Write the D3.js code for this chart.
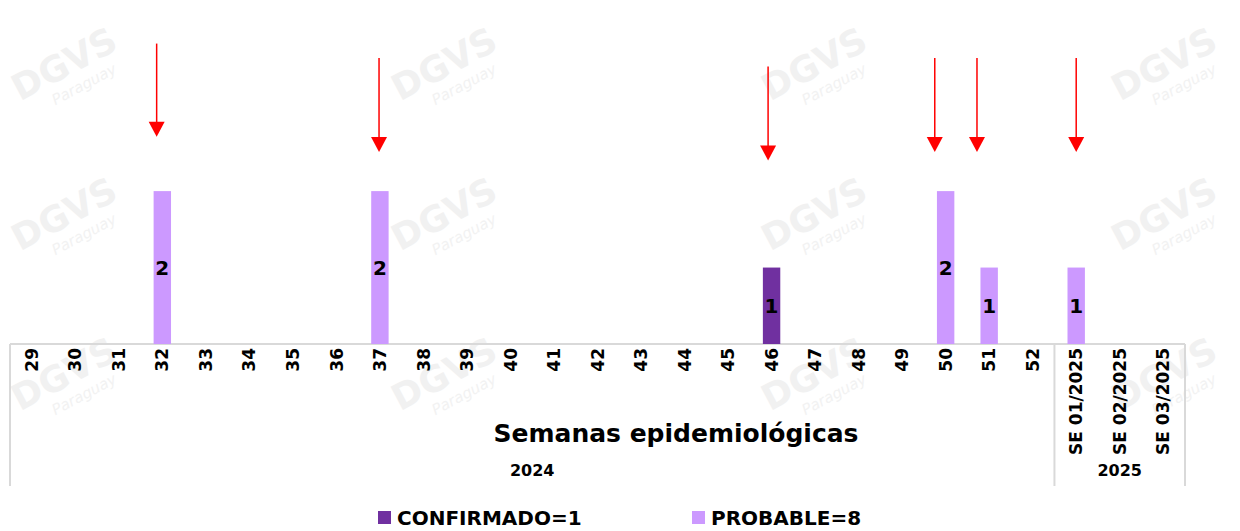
<!DOCTYPE html>
<html>
<head>
<meta charset="utf-8">
<script src="https://cdn.jsdelivr.net/npm/d3@7"></script>
<style>
  body { margin: 0; background: #fff; }
  svg { display: block; font-family: "DejaVu Sans", sans-serif; }
</style>
</head>
<body>
<svg id="chart" width="1240" height="531"></svg>
<script>
// categories (epidemiological weeks)
var weeks = ["29","30","31","32","33","34","35","36","37","38","39","40","41","42","43","44",
  "45","46","47","48","49","50","51","52","SE 01/2025","SE 02/2025","SE 03/2025"];
var years = ["2024", "2025"];
var yearSpan = [24, 3];   // how many weeks belong to each year group

// series values
var confirmado = [0,0,0,0,0,0,0,0,0,0,0,0,0,0,0,0,0,1,0,0,0,0,0,0,0,0,0];
var probable   = [0,0,0,2,0,0,0,0,2,0,0,0,0,0,0,0,0,0,0,0,0,2,1,0,1,0,0];

var seriesNames = ["CONFIRMADO=1", "PROBABLE=8"];

// red arrows above the cases (values in y units, shift in band fraction)
var arrowWeeks = ["32", "37", "46", "50", "51", "SE 01/2025"];
var arrowShift = [-0.13, -0.02, -0.08, -0.25, -0.28, 0];
var arrowFrom  = [3.93, 3.74, 3.63, 3.74, 3.74, 3.74];
var arrowTo    = [2.71, 2.51, 2.40, 2.51, 2.51, 2.51];

var colors = {confirmado: "#7030a0", probable: "#cc99ff"};

var svg = d3.select("#chart");

// faint watermark
var wm = svg.append("g").attr("class", "watermark");
var wmCols = [70, 450, 820, 1170], wmRows = [75, 225, 385];
wmRows.forEach(function(ry) {
  wmCols.forEach(function(cx) {
    var g = wm.append("g").attr("transform", "translate(" + cx + "," + ry + ") rotate(-28)");
    g.append("text").attr("text-anchor", "middle")
      .style("font-size", "36px").style("font-weight", "bold")
      .attr("fill", "#f1f1f1").text("DGVS");
    g.append("text").attr("text-anchor", "middle").attr("y", 20).attr("x", 8)
      .style("font-size", "15px").style("font-style", "italic")
      .attr("fill", "#f2f2f2").text("Paraguay");
  });
});

var x = d3.scaleBand()
    .domain(weeks)
    .range([10, 1185])
    .padding(0);

var y = d3.scaleLinear()
    .domain([0, 4.5])
    .range([344, 0]);

var barW = x.bandwidth() * 0.4;

// frame lines (axis baseline + year group separators)
var frame = svg.append("g").attr("stroke", "#d9d9d9").attr("stroke-width", 2);
frame.append("line")
    .attr("x1", x.range()[0]).attr("x2", x.range()[1])
    .attr("y1", y(0)).attr("y2", y(0));

var sepIdx = [0];
yearSpan.forEach(function(n, i) { sepIdx.push(sepIdx[i] + n); });
sepIdx.forEach(function(idx) {
  var xx = idx < weeks.length ? x(weeks[idx]) : x.range()[1];
  frame.append("line")
      .attr("x1", xx).attr("x2", xx)
      .attr("y1", y(0)).attr("y2", 486);
});

// bars
function drawSeries(values, color) {
  var data = weeks.map(function(w, i) { return {w: w, v: values[i]}; })
      .filter(function(d) { return d.v > 0; });
  svg.append("g").selectAll("rect")
      .data(data).enter().append("rect")
      .attr("x", function(d) { return x(d.w) + (x.bandwidth() - barW) / 2; })
      .attr("y", function(d) { return y(d.v); })
      .attr("width", barW)
      .attr("height", function(d) { return y(0) - y(d.v); })
      .attr("fill", color);

  svg.append("g").selectAll("text")
      .data(data).enter().append("text")
      .attr("x", function(d) { return x(d.w) + x.bandwidth() / 2; })
      .attr("y", function(d) { return (y(d.v) + y(0)) / 2; })
      .attr("dy", "0.36em")
      .attr("text-anchor", "middle")
      .style("font-size", "20px").style("font-weight", "bold")
      .attr("fill", "#000")
      .text(function(d) { return d.v; });
}
drawSeries(confirmado, colors.confirmado);
drawSeries(probable, colors.probable);

// week tick labels (rotated)
svg.append("g").selectAll("text")
    .data(weeks).enter().append("text")
    .attr("transform", function(d) {
      return "translate(" + (x(d) + x.bandwidth() / 2) + "," + (y(0) + 4) + ") rotate(-90)";
    })
    .attr("dy", "0.36em")
    .attr("text-anchor", "end")
    .style("font-size", "17px").style("font-weight", "bold")
    .attr("fill", "#000")
    .text(function(d) { return d; });

// year labels
svg.append("g").selectAll("text")
    .data(years).enter().append("text")
    .attr("x", function(d, i) {
      var a = x.range()[0] + sepIdx[i] * x.step();
      var b = x.range()[0] + sepIdx[i + 1] * x.step();
      return (a + b) / 2;
    })
    .attr("y", 476)
    .attr("text-anchor", "middle")
    .style("font-size", "16px").style("font-weight", "bold")
    .text(function(d) { return d; });

// axis title
svg.append("text")
    .attr("x", 676).attr("y", 442)
    .attr("text-anchor", "middle")
    .style("font-size", "25px").style("font-weight", "bold")
    .text("Semanas epidemiológicas");

// arrows
var arrows = svg.append("g");
arrowWeeks.forEach(function(w, i) {
  var ax = x(w) + x.bandwidth() / 2 + arrowShift[i] * x.bandwidth();
  var y1 = y(arrowFrom[i]), y2 = y(arrowTo[i]);
  arrows.append("line")
      .attr("x1", ax).attr("x2", ax)
      .attr("y1", y1).attr("y2", y2 - 12)
      .attr("stroke", "#ff0000").attr("stroke-width", 1.5);
  arrows.append("path")
      .attr("d", "M" + (ax - 8) + "," + (y2 - 15) + "L" + (ax + 8) + "," + (y2 - 15) + "L" + ax + "," + y2 + "Z")
      .attr("fill", "#ff0000");
});

// legend
var legend = svg.append("g");
var legX = [378, 692];
var legColors = [colors.confirmado, colors.probable];
seriesNames.forEach(function(name, i) {
  legend.append("rect")
      .attr("x", legX[i]).attr("y", 511)
      .attr("width", 13).attr("height", 13)
      .attr("fill", legColors[i]);
  legend.append("text")
      .attr("x", legX[i] + 19).attr("y", 525)
      .style("font-size", "20px").style("font-weight", "bold")
      .text(name);
});
</script>
</body>
</html>
